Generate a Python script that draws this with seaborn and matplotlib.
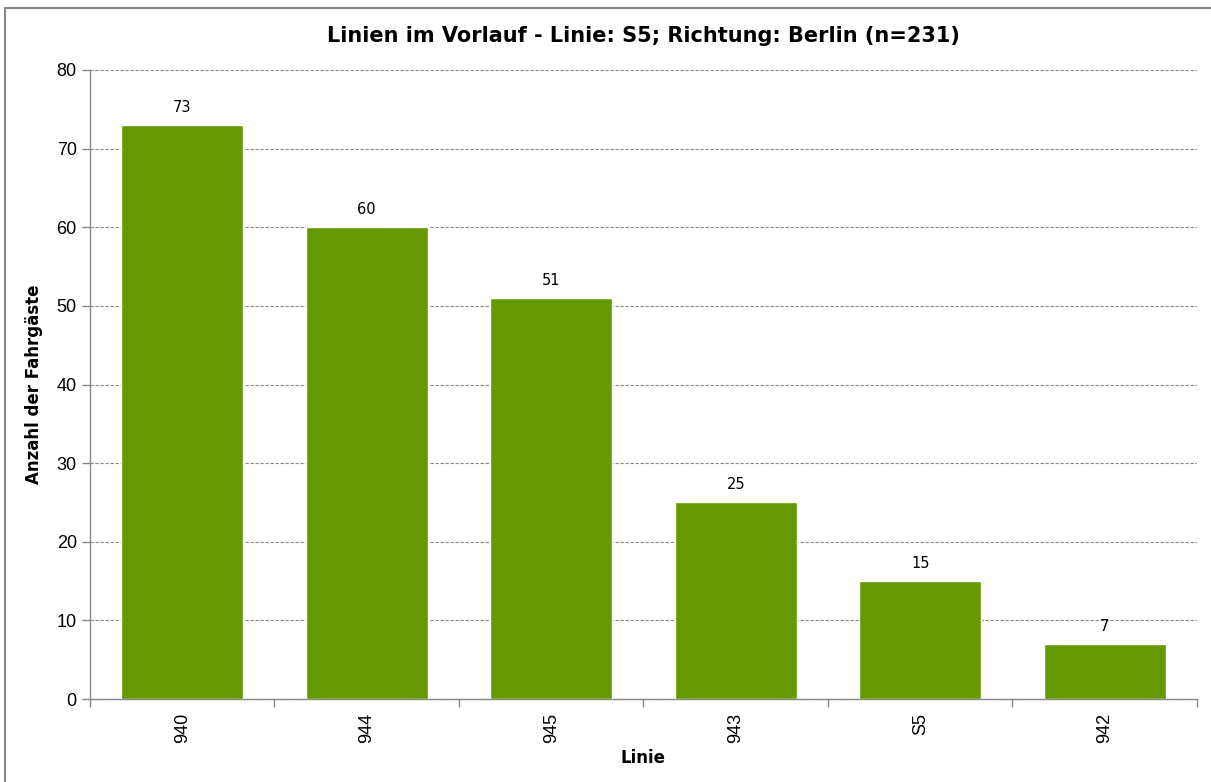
import pandas as pd
import matplotlib
matplotlib.use('Agg')
import matplotlib.pyplot as plt
import seaborn as sns
import numpy as np
from matplotlib.lines import Line2D

linien = ['940', '944', '945', '943', 'S5', '942']
anzahl = [73, 60, 51, 25, 15, 7]

df = pd.DataFrame({'Linie': linien, 'Anzahl': anzahl})

sns.set_style('white')
plt.rcParams['font.family'] = ['Liberation Sans', 'DejaVu Sans']
plt.rcParams['text.color'] = 'black'
plt.rcParams['xtick.color'] = 'black'
plt.rcParams['ytick.color'] = 'black'
plt.rcParams['axes.labelcolor'] = 'black'

fig = plt.figure(figsize=(12.11, 7.82), dpi=100)
ax = fig.add_axes([0.0743, 0.1061, 0.9141, 0.8044])

sns.barplot(data=df, x='Linie', y='Anzahl', color='#669900', saturation=1,
            width=0.66, ax=ax, zorder=3)

# Werte ueber den Balken
for i, v in enumerate(anzahl):
    ax.text(i, v + 1.3, str(v), ha='center', va='bottom', fontsize=10.5,
            family='DejaVu Sans', color='black')

ax.set_ylim(0, 80)
ax.set_xlim(-0.5, len(linien) - 0.5)
ax.set_yticks(np.arange(0, 81, 10))
ax.yaxis.grid(True, linestyle=(0, (3, 1.5)), color='#888888', linewidth=0.8, zorder=0)
ax.set_axisbelow(True)

# Striche an den Kategoriegrenzen
ax.set_xticks(np.arange(-0.5, len(linien), 1), minor=True)
ax.tick_params(axis='x', which='major', length=0, pad=10, labelsize=13, rotation=90)
ax.tick_params(axis='x', which='minor', bottom=True, length=6, width=1,
               color='#888888', direction='out')
ax.tick_params(axis='y', which='major', left=True, length=6, width=1,
               color='#888888', labelcolor='black', direction='out', labelsize=13)

for s in ['top', 'right']:
    ax.spines[s].set_visible(False)
for s in ['left', 'bottom']:
    ax.spines[s].set_color('#888888')
    ax.spines[s].set_linewidth(1)

ax.set_xlabel('Linie', fontsize=12, fontweight='bold', family='DejaVu Sans', labelpad=4)
ax.set_ylabel('Anzahl der Fahrgäste', fontsize=12, fontweight='bold', family='DejaVu Sans', labelpad=10)
ax.set_title('Linien im Vorlauf - Linie: S5; Richtung: Berlin (n=231)', fontsize=15,
             fontweight='bold', family='DejaVu Sans', pad=20, color='black')

# Rahmen (nur oben und links sichtbar)
y_top = 1 - 8 / 782
x_left = 5 / 1211
fig.add_artist(Line2D([x_left, 1], [y_top, y_top], transform=fig.transFigure,
                      color='#888888', linewidth=1.5))
fig.add_artist(Line2D([x_left, x_left], [0, y_top], transform=fig.transFigure,
                      color='#888888', linewidth=1.5))

fig.savefig('out.png', dpi=100)
